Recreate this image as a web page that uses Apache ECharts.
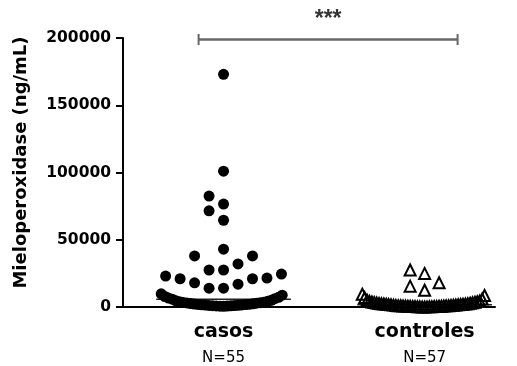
<!DOCTYPE html>
<html>
<head>
<meta charset="utf-8">
<script src="https://cdn.jsdelivr.net/npm/echarts@6/dist/echarts.min.js"></script>
<style>html,body{margin:0;padding:0;background:#fff;}#c{width:517px;height:366px;}</style>
</head>
<body>
<div id="c"></div>
<script>
// ---- data ----
const categories = ['casos', 'controles'];
const groupN = ['N=55', 'N=57'];
const casos = [173000, 101000, 82500, 76500, 71500, 64500, 43000, 38000, 38000, 32000,
  27500, 27500, 24500, 23000, 21500, 21000, 21000, 18000, 17000, 14000, 14000,
  9800, 8800, 7800, 7200, 6600, 6200, 5800, 5000, 4600, 4200, 3900, 3600, 3400, 3200,
  3000, 2800, 2600, 2400, 2200, 2000, 1900, 1800, 1600, 1500, 1400, 1300, 1200, 1100,
  1000, 900, 800, 700, 600, 500];
const controles = [27500, 25000, 18000, 15500, 12500, 9500, 8500, 7000, 6000, 5000,
  4500, 4200, 4000, 3800, 3600, 3400, 3200, 3000, 2800, 2600, 2500, 2400, 2300, 2200,
  2100, 2000, 1900, 1800, 1700, 1600, 1500, 1400, 1300, 1200, 1100, 1000, 950, 900,
  850, 800, 750, 700, 650, 600, 550, 500, 450, 400, 350, 300, 250, 200, 150, 120, 100, 80, 60];
const yTicks = [0, 50000, 100000, 150000, 200000];
const significance = '***';

// ---- layout constants ----
const FONT = 'DejaVu Sans';
const BIN = 10600;       // value height of a swarm row
const STEP = 0.072;      // preferred horizontal spacing (x units)
const MAXHALF = 0.31;    // max half width of swarm (x units)
const MEDHALF = 0.335;   // half width of median line
const BRACKET = {x0: 0.876, x1: 2.164, y: 198900};

function swarm(values, center) {
  const sorted = values.slice().sort((a, b) => a - b);
  const bins = [];
  let cur = null;
  sorted.forEach(v => {
    if (!cur || v >= cur.start + BIN) { cur = {start: v, pts: []}; bins.push(cur); }
    cur.pts.push(v);
  });
  const out = [];
  bins.forEach(b => {
    const n = b.pts.length;
    const kmax = Math.ceil((n - 1) / 2);
    const step = kmax > 0 ? Math.min(STEP, MAXHALF / kmax) : STEP;
    b.pts.forEach((v, i) => {
      const k = Math.ceil(i / 2);
      const sign = (i % 2 === 1) ? -1 : 1;
      out.push([center + sign * k * step, v]);
    });
  });
  return out;
}
function median(arr) {
  const s = arr.slice().sort((a, b) => a - b);
  const m = Math.floor(s.length / 2);
  return s.length % 2 ? s[m] : (s[m - 1] + s[m]) / 2;
}

const groups = [casos, controles];
const series = [];
groups.forEach((g, i) => {
  const c = i + 1;
  const med = median(g);
  series.push({
    type: 'line', data: [[c - MEDHALF, med], [c + MEDHALF, med]],
    symbol: 'none', lineStyle: {color: '#222', width: 1.5}, z: 1, silent: true
  });
});
series.push({
  type: 'scatter', data: swarm(casos, 1), symbol: 'circle', symbolSize: 11,
  itemStyle: {color: '#000', opacity: 1}, z: 3
});
series.push({
  type: 'scatter', data: swarm(controles, 2), symbol: 'triangle', symbolSize: 11,
  itemStyle: {color: 'rgba(0,0,0,0)', borderColor: '#000', borderWidth: 2, opacity: 1}, z: 3
});
series.push({
  type: 'line', data: [[BRACKET.x0, BRACKET.y], [BRACKET.x1, BRACKET.y]],
  symbol: 'rect', symbolSize: [2, 11], showSymbol: true,
  itemStyle: {color: '#666'}, lineStyle: {color: '#666', width: 2.5}, z: 2, silent: true
});
series.push({
  type: 'scatter', data: [[(BRACKET.x0 + BRACKET.x1) / 2, BRACKET.y]], symbolSize: 0,
  label: {show: true, formatter: significance, position: 'top', distance: 8,
    fontFamily: 'Liberation Sans', fontWeight: 'bold', fontSize: 23, color: '#000'}, z: 4
});

const chart = echarts.init(document.getElementById('c'));
chart.setOption({
  animation: false,
  backgroundColor: '#fff',
  grid: {left: 123, right: 22, top: 38, bottom: 59},
  xAxis: {
    type: 'value', min: 0.5, max: 2.35, interval: 0.5,
    axisLine: {show: true, lineStyle: {color: '#000', width: 2}},
    axisTick: {show: false}, splitLine: {show: false},
    axisLabel: {
      showMaxLabel: false, showMinLabel: false, margin: 11,
      formatter: v => {
        const idx = Math.round(v) - 1;
        if (Math.abs(v - Math.round(v)) < 1e-6 && idx >= 0 && idx < categories.length) {
          return '{a|' + categories[idx] + '}\n{b|' + groupN[idx] + '}';
        }
        return '';
      },
      rich: {
        a: {fontFamily: FONT, fontWeight: 'bold', fontSize: 19, color: '#000', lineHeight: 28},
        b: {fontFamily: FONT, fontSize: 15, color: '#000', lineHeight: 24}
      }
    }
  },
  yAxis: {
    type: 'value', min: yTicks[0], max: yTicks[yTicks.length - 1], interval: yTicks[1] - yTicks[0],
    axisLine: {show: true, lineStyle: {color: '#000', width: 2}},
    axisTick: {show: true, length: 7, lineStyle: {color: '#000', width: 2}},
    splitLine: {show: false},
    axisLabel: {fontFamily: FONT, fontWeight: 'bold', fontSize: 15.5, color: '#000', margin: 12,
      formatter: v => String(v)},
    name: 'Mieloperoxidase (ng/mL)', nameLocation: 'middle', nameGap: 93,
    nameTextStyle: {fontFamily: FONT, fontWeight: 'bold', fontSize: 18, color: '#000', padding: [0, 0, 0, 20]}
  },
  series: series
});
</script>
</body>
</html>
